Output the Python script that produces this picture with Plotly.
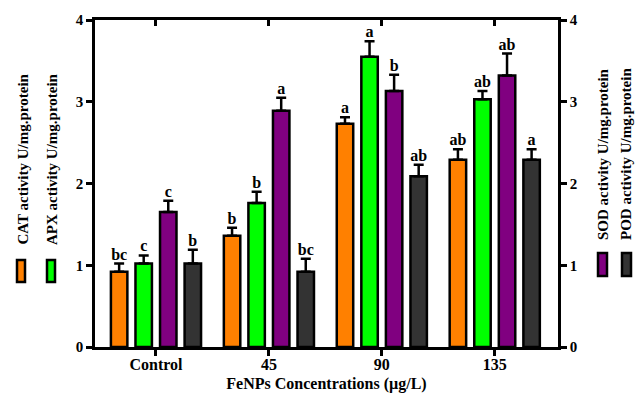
import plotly.graph_objects as go

categories = ["Control", "45", "90", "135"]
series_names = ["CAT activity U/mg.protein", "APX activity U/mg.protein",
                "SOD activity U/mg.protein", "POD activity U/mg.protein"]
cat_values = [0.92, 1.36, 2.73, 2.29]
cat_err = [0.10, 0.10, 0.08, 0.13]
apx_values = [1.02, 1.76, 3.55, 3.03]
apx_err = [0.10, 0.14, 0.19, 0.10]
sod_values = [1.65, 2.89, 3.13, 3.32]
sod_err = [0.14, 0.16, 0.20, 0.27]
pod_values = [1.02, 0.92, 2.09, 2.29]
pod_err = [0.17, 0.16, 0.14, 0.13]
cat_letters = ["bc", "b", "a", "ab"]
apx_letters = ["c", "b", "a", "ab"]
sod_letters = ["c", "a", "b", "ab"]
pod_letters = ["b", "bc", "ab", "a"]
y_ticks = [0, 1, 2, 3, 4]

colors = ["#FF8000", "#00FF00", "#800080", "#333333"]
values = [cat_values, apx_values, sod_values, pod_values]
errs = [cat_err, apx_err, sod_err, pod_err]
letters = [cat_letters, apx_letters, sod_letters, pod_letters]

FONT = "Liberation Serif"
W, H = 635, 400
ML, MR, MT, MB = 95, 77, 20, 53
BARGAP = 0.13
GROUPGAP = 0.33

xs = list(range(len(categories)))
fig = go.Figure()
for name, vals, er, col in zip(series_names, values, errs, colors):
    fig.add_trace(go.Bar(
        x=xs, y=vals, name=name, marker=dict(color=col, line=dict(color="black", width=2.5)),
        error_y=dict(type="data", symmetric=False, array=er, arrayminus=[0] * len(er),
                     color="black", thickness=2.5, width=5),
        showlegend=False, hoverinfo="skip"))

n = len(values)
slot = (1 - BARGAP) / n
for j, (vals, er, lab) in enumerate(zip(values, errs, letters)):
    off = (j - (n - 1) / 2) * slot
    fig.add_trace(go.Scatter(
        x=[i + off for i in xs], y=[v + e for v, e in zip(vals, er)],
        mode="text", text=["<b>%s</b>" % t for t in lab], textposition="top center",
        textfont=dict(family=FONT, size=16, color="black"),
        showlegend=False, hoverinfo="skip", cliponaxis=False))

# helper traces for mirrored axes
fig.add_trace(go.Scatter(x=xs, y=cat_values, xaxis="x2", mode="markers",
                         marker=dict(opacity=0), showlegend=False, hoverinfo="skip"))
fig.add_trace(go.Scatter(x=xs, y=cat_values, yaxis="y2", mode="markers",
                         marker=dict(opacity=0), showlegend=False, hoverinfo="skip"))

xr = [-0.54, 3.56]
tickfont = dict(family=FONT, size=15, color="black", weight="bold")
fig.update_layout(
    width=W, height=H, margin=dict(l=ML, r=MR, t=MT, b=MB),
    plot_bgcolor="white", paper_bgcolor="white",
    barmode="group", bargap=BARGAP, bargroupgap=GROUPGAP,
    xaxis=dict(range=xr, tickvals=xs, ticktext=["<b>%s</b>" % c for c in categories],
               tickfont=dict(family=FONT, size=16, color="black"), automargin=False,
               ticklabelstandoff=-5,
               showline=True, linecolor="black", linewidth=2.5, mirror=True,
               ticks="outside", ticklen=6, tickwidth=2.5, tickcolor="black",
               showgrid=False, zeroline=False,
               title=dict(text="<b>FeNPs Concentrations (µg/L)</b>", standoff=6,
                          font=dict(family=FONT, size=16, color="black"))),
    xaxis2=dict(range=xr, overlaying="x", side="top", tickvals=xs, showticklabels=False,
                ticks="inside", ticklen=6, tickwidth=2.5, tickcolor="black",
                showgrid=False, zeroline=False, showline=False, automargin=False),
    yaxis=dict(range=[0, 4], tickvals=y_ticks, tickfont=tickfont, automargin=False,
               showline=True, linecolor="black", linewidth=2.5,
               ticks="outside", ticklen=6, tickwidth=2.5, tickcolor="black",
               showgrid=False, zeroline=False),
    yaxis2=dict(range=[0, 4], overlaying="y", side="right", tickvals=y_ticks, tickfont=tickfont,
                showline=True, linecolor="black", linewidth=2.5, automargin=False,
                ticks="outside", ticklen=6, tickwidth=2.5, tickcolor="black",
                showgrid=False, zeroline=False),
)

pw = W - ML - MR
ph = H - MT - MB
def px_x(p):
    return (p - ML) / pw
def px_y(p):
    return (H - MB - p) / ph

# rotated legend entries: (text x center px, text bottom px, icon x0, x1, y top, y bottom)
legend_pos = [(22, 247, 17, 25, 260, 282),
              (52, 247, 47, 55, 260, 282),
              (603, 242, 598, 607, 253, 276),
              (626, 242, 622, 631, 253, 276)]
for name, col, (tx, tb, ix0, ix1, iy0, iy1) in zip(series_names, colors, legend_pos):
    fig.add_annotation(x=px_x(tx), y=px_y(tb), xref="paper", yref="paper",
                       text="<b>%s</b>" % name, textangle=-90, showarrow=False,
                       xanchor="center", yanchor="bottom",
                       font=dict(family=FONT, size=15, color="black"))
    fig.add_shape(type="rect", xref="paper", yref="paper",
                  x0=px_x(ix0), x1=px_x(ix1), y0=px_y(iy1), y1=px_y(iy0),
                  fillcolor=col, line=dict(color="black", width=2.5))

fig.write_html("out.html", config={"displayModeBar": False},
               post_script="document.body.style.margin='0';")
